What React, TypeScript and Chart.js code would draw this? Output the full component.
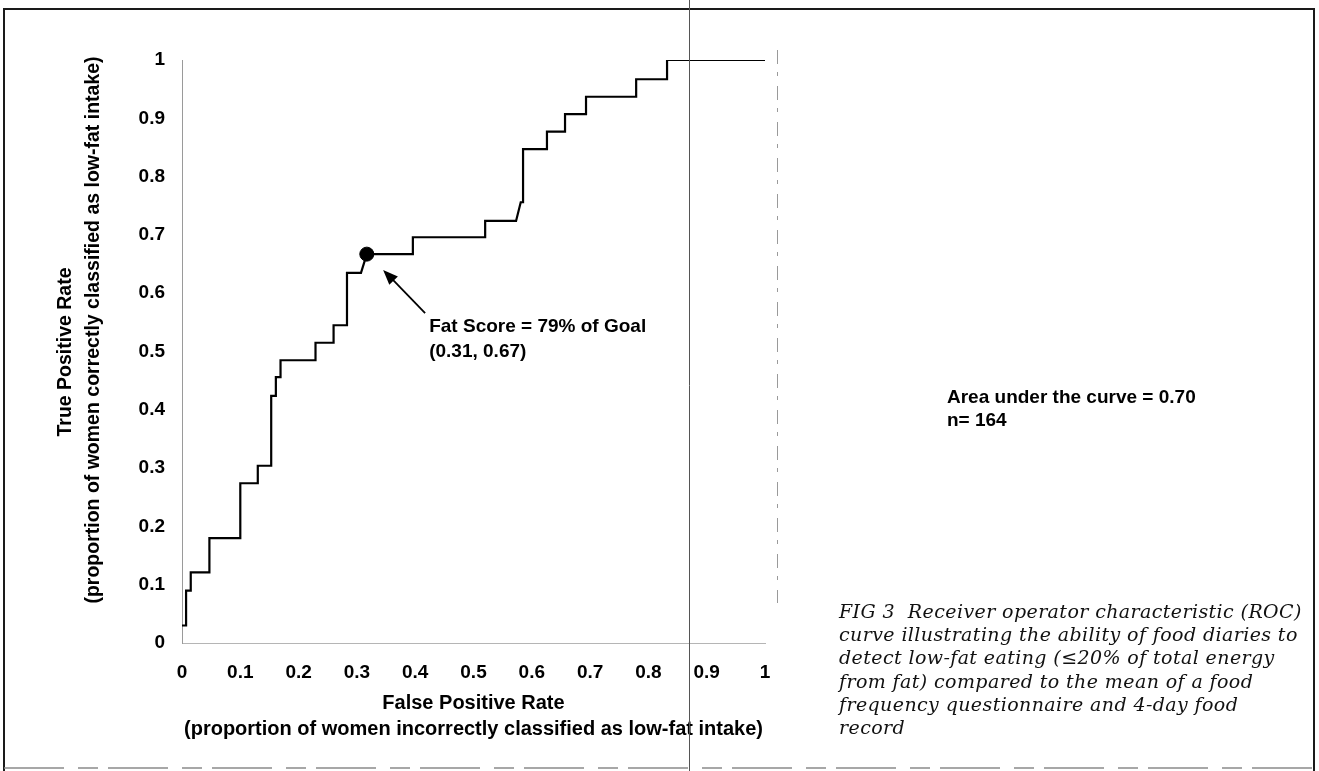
import React, { useEffect, useRef } from "react";
import { Chart, registerables } from "chart.js";

Chart.register(...registerables);

// ROC curve corner points (false positive rate, true positive rate)
const fprValues = [0, 0.007, 0.007, 0.015, 0.015, 0.047, 0.047, 0.1, 0.1, 0.13, 0.13, 0.153, 0.153, 0.161, 0.161, 0.169, 0.169, 0.229, 0.229, 0.26, 0.26, 0.283, 0.283, 0.307, 0.317, 0.396, 0.396, 0.52, 0.52, 0.573, 0.581, 0.585, 0.585, 0.626, 0.626, 0.657, 0.657, 0.693, 0.693, 0.779, 0.779, 0.832, 0.832, 1.0];
const tprValues = [0.03, 0.03, 0.09, 0.09, 0.121, 0.121, 0.18, 0.18, 0.274, 0.274, 0.304, 0.304, 0.424, 0.424, 0.456, 0.456, 0.485, 0.485, 0.515, 0.515, 0.545, 0.545, 0.635, 0.635, 0.667, 0.667, 0.696, 0.696, 0.724, 0.724, 0.756, 0.756, 0.847, 0.847, 0.877, 0.877, 0.907, 0.907, 0.937, 0.937, 0.967, 0.967, 1.0, 1.0];

const cutoffX = [0.317];
const cutoffY = [0.667];

const axisMin = 0;
const axisMax = 1;
const tickStep = 0.1;

const xTitleLines = ["False Positive Rate", "(proportion of women incorrectly classified as low-fat intake)"];
const yTitleLines = ["True Positive Rate", "(proportion of women correctly classified as low-fat intake)"];
const annotationLines = ["Fat Score = 79% of Goal", "(0.31, 0.67)"];
const statsLines = ["Area under the curve = 0.70", "n= 164"];
const captionLines = [
  "FIG 3  Receiver operator characteristic (ROC)",
  "curve illustrating the ability of food diaries to",
  "detect low-fat eating (\u226420% of total energy",
  "from fat) compared to the mean of a food",
  "frequency questionnaire and 4-day food",
  "record",
];

const SANS = "Arial, 'Liberation Sans', Helvetica, sans-serif";
const SERIF = "'DejaVu Serif', 'Liberation Serif', serif";

const formatTick = (v: number) => String(Math.round(v * 10) / 10);

const decorPlugin = {
  id: "decor",
  afterDraw(chart: any) {
    const { ctx, chartArea, scales } = chart;
    const xs = scales.x;
    const ys = scales.y;
    ctx.save();

    // outer frame (scanned page border)
    ctx.strokeStyle = "#1a1a1a";
    ctx.lineWidth = 2;
    ctx.beginPath();
    ctx.moveTo(4, 771);
    ctx.lineTo(4, 9);
    ctx.lineTo(1314, 9);
    ctx.lineTo(1314, 771);
    ctx.stroke();
    ctx.strokeStyle = "#8a8a8a";
    ctx.lineWidth = 1.5;
    ctx.setLineDash([60, 14, 20, 10]);
    ctx.beginPath();
    ctx.moveTo(4, 768);
    ctx.lineTo(1314, 768);
    ctx.stroke();

    // scan fold line
    ctx.setLineDash([]);
    ctx.strokeStyle = "#555";
    ctx.lineWidth = 1;
    ctx.beginPath();
    ctx.moveTo(689.5, 0);
    ctx.lineTo(689.5, 771);
    ctx.stroke();

    // faint right frame of plot
    ctx.strokeStyle = "#9a9a9a";
    ctx.lineWidth = 1;
    ctx.setLineDash([14, 8, 4, 10]);
    ctx.beginPath();
    ctx.moveTo(chartArea.right + 12.5, chartArea.top - 10);
    ctx.lineTo(chartArea.right + 12.5, chartArea.bottom - 40);
    ctx.stroke();
    ctx.setLineDash([]);

    // y-axis title (two centred rotated lines)
    ctx.fillStyle = "#000";
    ctx.font = `bold 19.5px ${SANS}`;
    ctx.textAlign = "center";
    ctx.textBaseline = "middle";
    const yTitleX = [66, 94];
    const yTitleCY = [352, 330];
    yTitleLines.forEach((t, i) => {
      ctx.save();
      ctx.translate(yTitleX[i], yTitleCY[i]);
      ctx.rotate(-Math.PI / 2);
      ctx.fillText(t, 0, 0);
      ctx.restore();
    });

    // arrow to the cut-off point
    const tipX = xs.getPixelForValue(0.345);
    const tipY = ys.getPixelForValue(0.64);
    const tailX = xs.getPixelForValue(0.417);
    const tailY = ys.getPixelForValue(0.566);
    const ang = Math.atan2(tipY - tailY, tipX - tailX);
    const headLen = 15;
    const headW = 6;
    ctx.strokeStyle = "#000";
    ctx.fillStyle = "#000";
    ctx.lineWidth = 1.8;
    ctx.beginPath();
    ctx.moveTo(tailX, tailY);
    ctx.lineTo(tipX - Math.cos(ang) * headLen * 0.8, tipY - Math.sin(ang) * headLen * 0.8);
    ctx.stroke();
    ctx.beginPath();
    ctx.moveTo(tipX, tipY);
    ctx.lineTo(tipX - Math.cos(ang) * headLen + Math.sin(ang) * headW, tipY - Math.sin(ang) * headLen - Math.cos(ang) * headW);
    ctx.lineTo(tipX - Math.cos(ang) * headLen - Math.sin(ang) * headW, tipY - Math.sin(ang) * headLen + Math.cos(ang) * headW);
    ctx.closePath();
    ctx.fill();

    // annotation text
    ctx.font = `bold 19px ${SANS}`;
    ctx.textAlign = "left";
    ctx.textBaseline = "middle";
    const annX = xs.getPixelForValue(0.424);
    const annY = ys.getPixelForValue(0.542);
    annotationLines.forEach((t, i) => ctx.fillText(t, annX, annY + i * 25));

    // stats text
    ctx.font = `bold 19px ${SANS}`;
    statsLines.forEach((t, i) => ctx.fillText(t, 947, 398 + i * 23));

    // caption
    ctx.font = `italic 19px ${SERIF}`;
    (ctx as any).letterSpacing = "0.4px";
    ctx.fillStyle = "#111";
    captionLines.forEach((t, i) => ctx.fillText(t, 839, 613 + i * 23.2));

    ctx.restore();
  },
};

export default function App() {
  const canvasRef = useRef<HTMLCanvasElement | null>(null);

  useEffect(() => {
    document.body.style.margin = "0";
    const canvas = canvasRef.current;
    if (!canvas) return;

    const curve = fprValues.map((x, i) => ({ x, y: tprValues[i] }));
    const cutoff = cutoffX.map((x, i) => ({ x, y: cutoffY[i] }));

    const tickFont = { family: SANS, size: 19, weight: "bold" as const };

    const chart = new Chart(canvas, {
      type: "scatter",
      data: {
        datasets: [
          {
            data: curve,
            showLine: true,
            borderColor: "#000",
            borderWidth: 2.2,
            pointRadius: 0,
            tension: 0,
          },
          {
            data: cutoff,
            showLine: false,
            pointRadius: 7,
            pointBackgroundColor: "#000",
            pointBorderColor: "#000",
          },
        ],
      },
      options: {
        animation: false,
        responsive: false,
        maintainAspectRatio: false,
        layout: { padding: { left: 0, top: 60, right: 554, bottom: 0 } },
        plugins: { legend: { display: false }, tooltip: { enabled: false } },
        scales: {
          x: {
            type: "linear",
            min: axisMin,
            max: axisMax,
            afterFit: (s: any) => {
              s.height = 128;
            },
            ticks: { stepSize: tickStep, color: "#000", font: tickFont, padding: 18, maxRotation: 0, callback: (v: any) => formatTick(Number(v)) },
            grid: { display: false, drawTicks: false },
            border: { display: true, color: "#b5b5b5", width: 1, dash: [30, 12] },
            title: {
              display: true,
              text: xTitleLines,
              color: "#000",
              font: { family: SANS, size: 20, weight: "bold", lineHeight: "26px" },
              padding: { top: 0, bottom: 29 },
            },
          },
          y: {
            type: "linear",
            min: axisMin,
            max: axisMax,
            afterFit: (s: any) => {
              s.width = 182;
            },
            ticks: { stepSize: tickStep, color: "#000", font: tickFont, padding: 17, callback: (v: any) => formatTick(Number(v)) },
            grid: { display: false, drawTicks: false },
            border: { display: true, color: "#9a9a9a", width: 1, dash: [12, 5] },
            title: { display: false },
          },
        },
      },
      plugins: [decorPlugin],
    });

    return () => chart.destroy();
  }, []);

  return (
    <div style={{ width: 1319, height: 771, position: "relative", background: "#fff" }}>
      <canvas ref={canvasRef} width={1319} height={771} style={{ display: "block" }} />
    </div>
  );
}
